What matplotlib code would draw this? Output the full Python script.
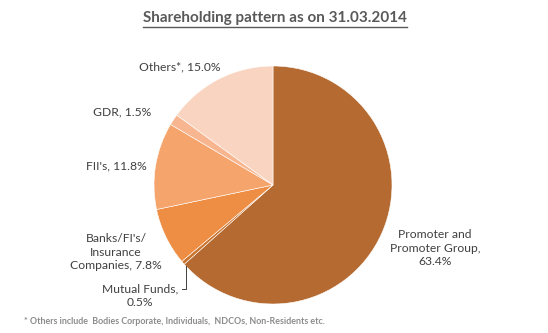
import matplotlib.pyplot as plt

# Data
labels = ["Promoter and\nPromoter Group,\n63.4%", "Mutual Funds,\n0.5%",
          "Banks/FI's/\nInsurance\nCompanies, 7.8%", "FII's, 11.8%",
          "GDR, 1.5%", "Others*, 15.0%"]
shares = [63.4, 0.5, 7.8, 11.8, 1.5, 15.0]
colors = ["#B46A30", "#C9742F", "#EE8E44", "#F5A46C", "#F8B690", "#F9D4C0"]
label_pos = [(435, 248), (140, 296), (116, 252), (116, 166), (122, 112), (180, 67)]

W, H = 548, 333
fig = plt.figure(figsize=(W / 100, H / 100), dpi=100)
ax = fig.add_axes([0, 0, 1, 1])

cx, cy, r = 273, 185, 119
ax.pie(shares, colors=colors, startangle=90, counterclock=False,
       center=(cx, H - cy), radius=r, frame=True,
       wedgeprops=dict(edgecolor="white", linewidth=0.4))
ax.set_xlim(0, W)
ax.set_ylim(0, H)
ax.set_aspect("equal")
ax.axis("off")

font = "Lato"
for lab, (x, y) in zip(labels, label_pos):
    ax.text(x, H - y, lab, ha="center", va="center", fontsize=8.7,
            family=font, color="#404040", linespacing=1.3)

# leader line for Mutual Funds
ax.plot([186, 186, 182], [H - 266, H - 289, H - 289], color="#404040", lw=0.7)

# Title with underline
t = ax.text(275, H - 18, "Shareholding pattern as on 31.03.2014", ha="center",
            va="center", fontsize=11, family=font, fontweight="bold", color="#595959")
fig.canvas.draw()
bb = t.get_window_extent()
ax.plot([bb.x0, bb.x1], [H - 27, H - 27], color="#595959", lw=1)

ax.text(24, H - 322, "* Others include  Bodies Corporate, Individuals,  NDCOs, Non-Residents etc.",
        ha="left", va="center", fontsize=6.4, family=font, fontweight="bold", color="#8C8C8C")

fig.savefig("out.png", dpi=100)
